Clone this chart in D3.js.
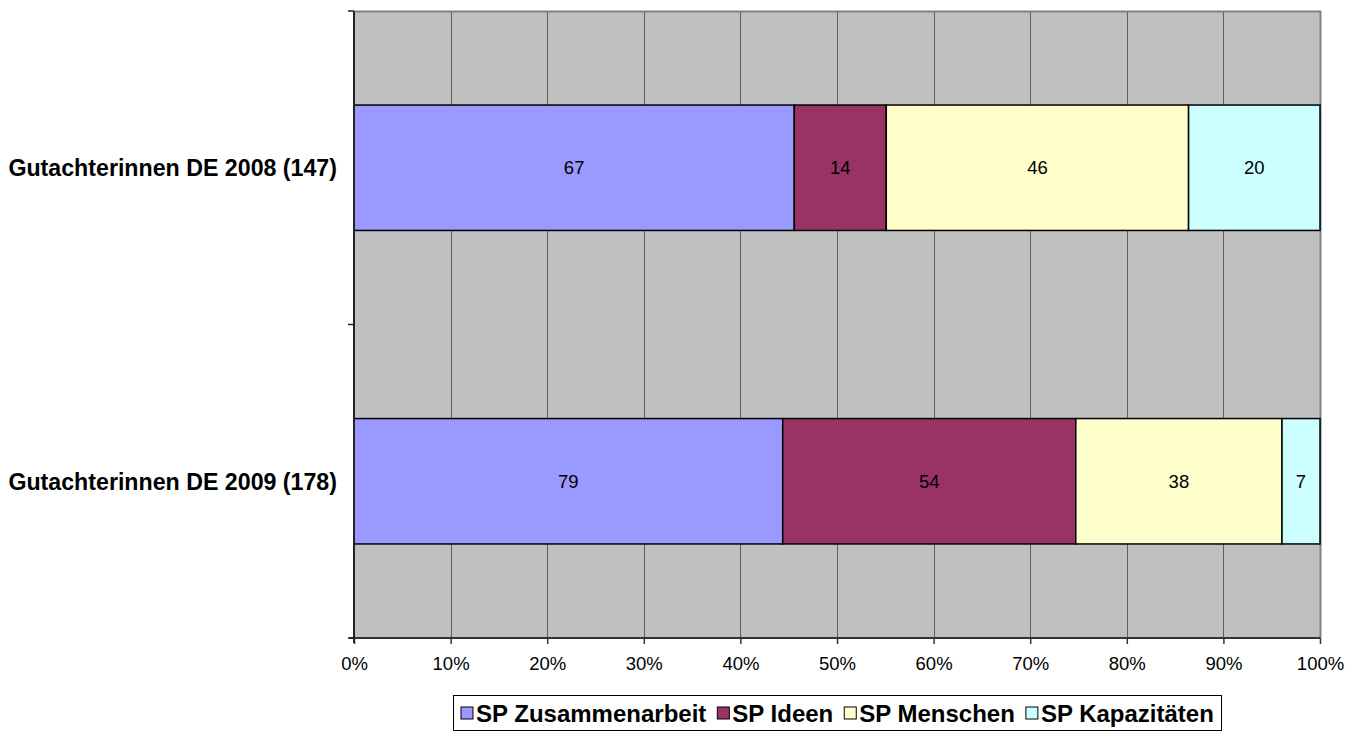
<!DOCTYPE html>
<html>
<head>
<meta charset="utf-8">
<script src="https://cdn.jsdelivr.net/npm/d3@7"></script>
<style>
  html, body { margin: 0; padding: 0; background: #ffffff; }
  svg { display: block; font-family: Arial, "Liberation Sans", sans-serif; }
</style>
</head>
<body>
<svg id="chart" width="1362" height="731"></svg>
<script>
// Reviewer groups (rows, top to bottom)
const categories = ["Gutachterinnen DE 2008 (147)", "Gutachterinnen DE 2009 (178)"];
// Stacked series, counts per group
const seriesNames = ["SP Zusammenarbeit", "SP Ideen", "SP Menschen", "SP Kapazitäten"];
const zusammenarbeit = [67, 79];
const ideen = [14, 54];
const menschen = [46, 38];
const kapazitaeten = [20, 7];
const seriesColors = ["#9999FF", "#993366", "#FFFFCC", "#CCFFFF"];
const tickValues = [0, 0.1, 0.2, 0.3, 0.4, 0.5, 0.6, 0.7, 0.8, 0.9, 1.0];

const seriesValues = [zusammenarbeit, ideen, menschen, kapazitaeten];

const svg = d3.select("#chart");
const plot = { left: 354, right: 1320, top: 11, bottom: 638 };

// Build rows for d3.stack, normalised to 100 % per group
const rows = categories.map((c, i) => {
  const row = { category: c };
  seriesNames.forEach((s, j) => { row[s] = seriesValues[j][i]; });
  return row;
});
const stacked = d3.stack().keys(seriesNames).offset(d3.stackOffsetExpand)(rows);

const x = d3.scaleLinear().domain([0, 1]).range([plot.left, plot.right]);
const y = d3.scaleBand().domain(categories).range([plot.top, plot.bottom])
  .paddingInner(0.6).paddingOuter(0.3);
const yCat = d3.scaleBand().domain(categories).range([plot.top, plot.bottom]).padding(0);

// Plot background
svg.append("rect")
  .attr("x", plot.left).attr("y", plot.top)
  .attr("width", plot.right - plot.left).attr("height", plot.bottom - plot.top)
  .attr("fill", "#C0C0C0");

// Vertical gridlines
svg.append("g").selectAll("line")
  .data(tickValues.slice(1, -1))
  .join("line")
  .attr("x1", d => Math.round(x(d)) + 0.5).attr("x2", d => Math.round(x(d)) + 0.5)
  .attr("y1", plot.top).attr("y2", plot.bottom)
  .attr("stroke", "#5f5f5f").attr("stroke-width", 1);

// Top and right frame
svg.append("path")
  .attr("d", `M${plot.left},${plot.top + 0.5}H${plot.right + 0.5}V${plot.bottom}`)
  .attr("fill", "none").attr("stroke", "#808080").attr("stroke-width", 2);

// Bars
const barLayer = svg.append("g");
stacked.forEach((layer, j) => {
  barLayer.append("g").selectAll("rect")
    .data(layer)
    .join("rect")
    .attr("x", d => x(d[0]))
    .attr("width", d => x(d[1]) - x(d[0]))
    .attr("y", d => y(d.data.category))
    .attr("height", y.bandwidth())
    .attr("fill", seriesColors[j])
    .attr("stroke", "#000").attr("stroke-width", 1.5);
});

// Value labels
stacked.forEach((layer, j) => {
  barLayer.append("g").selectAll("text")
    .data(layer)
    .join("text")
    .attr("x", d => (x(d[0]) + x(d[1])) / 2)
    .attr("y", d => y(d.data.category) + y.bandwidth() / 2)
    .attr("dy", "0.36em")
    .attr("text-anchor", "middle")
    .attr("font-size", 18.5)
    .attr("fill", "#000")
    .text(d => d.data[layer.key]);
});

// Bottom axis
const xAxis = d3.axisBottom(x).tickValues(tickValues)
  .tickFormat(d3.format(".0%")).tickSize(6).tickPadding(13);
const gx = svg.append("g").attr("transform", `translate(0,${plot.bottom})`).call(xAxis);
gx.select(".domain").attr("stroke", "#333").attr("stroke-width", 2)
  .attr("d", `M${plot.left - 5},0H${plot.right}`);
gx.selectAll(".tick line").attr("stroke", "#333").attr("stroke-width", 1.5);
gx.selectAll(".tick text").attr("font-size", 18.5).attr("font-family", "Arial, 'Liberation Sans', sans-serif").attr("fill", "#000");

// Left axis: ticks at category boundaries, labels centred in each category
const gy = svg.append("g");
gy.append("line")
  .attr("x1", plot.left).attr("x2", plot.left)
  .attr("y1", plot.top).attr("y2", plot.bottom + 5)
  .attr("stroke", "#222").attr("stroke-width", 2);
const boundaries = [plot.top].concat(categories.map(c => yCat(c) + yCat.bandwidth()));
gy.selectAll("line.tick").data(boundaries).join("line").attr("class", "tick")
  .attr("x1", plot.left - 6).attr("x2", plot.left)
  .attr("y1", d => d).attr("y2", d => d)
  .attr("stroke", "#222").attr("stroke-width", 1.5);
gy.selectAll("text").data(categories).join("text")
  .attr("x", 337)
  .attr("y", d => yCat(d) + yCat.bandwidth() / 2)
  .attr("dy", "0.36em")
  .attr("text-anchor", "end")
  .attr("font-size", 23.2).attr("font-weight", "bold")
  .attr("fill", "#000")
  .text(d => d);

// Legend
const legend = svg.append("g");
legend.append("rect")
  .attr("x", 453.5).attr("y", 695.5).attr("width", 768).attr("height", 35)
  .attr("fill", "#fff").attr("stroke", "#000").attr("stroke-width", 1);
let lx = 461;
seriesNames.forEach((name, j) => {
  legend.append("rect")
    .attr("x", lx).attr("y", 707).attr("width", 12).attr("height", 12)
    .attr("fill", seriesColors[j]).attr("stroke", "#000").attr("stroke-width", 1);
  const t = legend.append("text")
    .attr("x", lx + 15).attr("y", 713).attr("dy", "0.36em")
    .attr("font-size", 24).attr("font-weight", "bold").attr("fill", "#000")
    .text(name);
  lx += 15 + t.node().getComputedTextLength() + 11;
});
</script>
</body>
</html>
